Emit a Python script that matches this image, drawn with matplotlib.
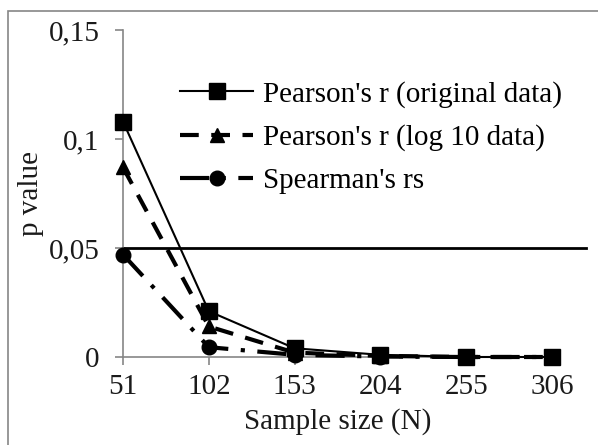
import matplotlib
matplotlib.use("Agg")
import matplotlib.pyplot as plt
from matplotlib.patches import Rectangle
from matplotlib.transforms import blended_transform_factory

sample_sizes = [51, 102, 153, 204, 255, 306]
pearson_orig = [0.108, 0.021, 0.004, 0.001, 0.0, 0.0]
pearson_log = [0.087, 0.014, 0.002, 0.0005, 0.0, 0.0]
spearman = [0.047, 0.0045, 0.001, 0.0002, 0.0, 0.0]
threshold = 0.05
y_ticks = [0, 0.05, 0.1, 0.15]
y_tick_labels = ["0", "0,05", "0,1", "0,15"]
labels = ["Pearson's r (original data)", "Pearson's r (log 10 data)", "Spearman's rs"]

plt.rcParams['font.family'] = ['Liberation Serif', 'DejaVu Serif']
fs = 21

fig = plt.figure(figsize=(5.98, 4.45), dpi=100)
fig.patches.append(Rectangle((8/598, -0.1), 1.2, (445-11)/445 + 0.1, transform=fig.transFigure,
                             fill=False, edgecolor='#868686', linewidth=1.2))
ax = fig.add_axes([123/598, (445-357)/445, (552-123)/598, (357-30)/445])

ax.plot(sample_sizes, pearson_orig, color='black', lw=1.5, marker='s', ms=11.5,
        label=labels[0], clip_on=False, zorder=5)
ax.plot(sample_sizes, pearson_log, color='black', lw=3, ls=(0, (4.5, 3)), marker='^', ms=10,
        label=labels[1], clip_on=False, zorder=4)
ax.plot(sample_sizes, spearman, color='black', lw=3, ls=(0, (7, 3, 1, 3)), marker='o', ms=10.5,
        label=labels[2], clip_on=False, zorder=3)

trans = blended_transform_factory(ax.transAxes, ax.transData)
ax.plot([0, 1.08], [threshold, threshold], transform=trans, color='black', lw=2, clip_on=False)

ax.set_xlim(sample_sizes[0], sample_sizes[-1])
ax.set_ylim(0, 0.15)
ax.set_xticks(sample_sizes)
ax.set_xticklabels([str(s) for s in sample_sizes], fontsize=fs)
ax.set_yticks(y_ticks)
ax.set_yticklabels(y_tick_labels, fontsize=fs)
for s in ['top', 'right']:
    ax.spines[s].set_visible(False)
for s in ['left', 'bottom']:
    ax.spines[s].set_color('#868686')
    ax.spines[s].set_linewidth(1.2)
ax.tick_params(axis='both', color='#868686', length=6, width=1.2, labelcolor='#1a1a1a')
ax.tick_params(axis='y', pad=11)
ax.tick_params(axis='x', pad=6)

ax.set_xlabel("Sample size (N)", fontsize=fs, labelpad=6, color='#1a1a1a')
ax.set_ylabel("p value", fontsize=fs, labelpad=3, color='#1a1a1a')

leg = ax.legend(loc='upper left', bbox_to_anchor=(0.106, 0.88), frameon=False, fontsize=fs,
                handlelength=2.5, handletextpad=0.35, labelspacing=0.57, borderaxespad=0)

fig.savefig("out.png", dpi=100)
